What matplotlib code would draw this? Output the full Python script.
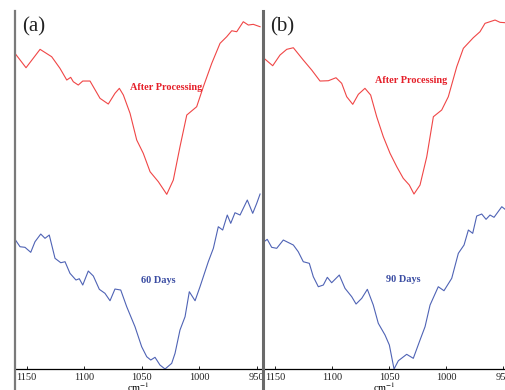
import numpy as np
import matplotlib
matplotlib.use("Agg")
import matplotlib.pyplot as plt
from matplotlib.lines import Line2D

plt.rcParams['font.family'] = ['Liberation Serif', 'DejaVu Serif']
plt.rcParams['mathtext.fontset'] = 'stix'

# Spectra: wavenumber (cm-1) vs signal (arb. units)
wn_a_proc = [1160.2, 1150.6, 1138.4, 1128.3, 1121.1, 1115.2, 1111.8, 1109.5, 1105.2, 1101.3,
             1095.0, 1086.3, 1079.1, 1073.3, 1069.5, 1066.0, 1060.2, 1054.4, 1048.7, 1042.8,
             1035.6, 1028.3, 1022.6, 1016.8, 1010.9, 1002.3, 996.5, 989.2, 982.0, 976.2,
             971.8, 967.5, 961.8, 957.4, 953.1, 947.2]
sig_a_proc = [315.7, 301.3, 319.7, 312.3, 300.7, 289.0, 291.7, 287.3, 284.0, 288.0,
              288.0, 270.7, 265.0, 275.7, 280.7, 274.0, 255.7, 229.0, 215.7, 197.3,
              187.3, 174.7, 189.0, 222.3, 254.0, 262.3, 282.3, 305.7, 325.7, 332.3,
              338.3, 337.3, 347.3, 344.0, 344.7, 342.3]

wn_a_60 = [1160.2, 1155.8, 1151.5, 1146.5, 1142.8, 1137.8, 1134.1, 1130.4, 1125.4, 1120.4,
           1116.7, 1112.4, 1107.2, 1104.3, 1101.3, 1096.5, 1092.1, 1086.9, 1082.0, 1077.6,
           1073.3, 1068.3, 1063.1, 1055.9, 1050.1, 1045.7, 1042.2, 1038.5, 1034.2, 1029.8,
           1024.0, 1021.1, 1016.8, 1012.4, 1008.7, 1003.7, 999.4, 992.2, 987.8, 983.5,
           979.7, 975.7, 972.7, 969.0, 964.6, 958.3, 953.6, 950.1, 947.2]
sig_a_60 = [129.7, 122.3, 121.7, 116.7, 127.3, 135.0, 130.7, 134.0, 110.7, 106.3,
            107.3, 95.7, 89.0, 90.3, 84.0, 98.0, 93.0, 79.7, 75.7, 68.3,
            80.0, 79.0, 62.3, 42.3, 22.3, 12.3, 9.0, 11.7, 4.0, 0.0,
            5.7, 15.7, 39.0, 52.3, 77.3, 68.3, 82.3, 107.3, 120.7, 142.3,
            139.0, 154.0, 145.7, 156.3, 154.0, 169.0, 155.7, 165.7, 175.0]

wn_b_proc = [1159.6, 1152.0, 1145.6, 1139.7, 1133.9, 1125.2, 1117.8, 1110.5, 1103.2, 1096.5,
             1091.5, 1087.1, 1081.8, 1076.9, 1071.1, 1066.1, 1060.8, 1055.0, 1049.1, 1043.2,
             1037.5, 1032.2, 1028.1, 1022.8, 1016.9, 1011.1, 1003.8, 998.0, 990.6, 984.8,
             976.1, 970.2, 965.8, 957.0, 952.6, 947.4]
sig_b_proc = [310.7, 303.3, 314.0, 319.7, 321.3, 309.0, 299.0, 288.0, 288.3, 291.3,
              285.7, 272.3, 264.7, 274.7, 280.7, 274.0, 252.3, 232.3, 215.7, 202.3,
              190.7, 184.0, 175.0, 184.0, 212.3, 252.3, 259.0, 272.3, 302.3, 320.7,
              331.3, 337.3, 345.7, 349.0, 346.7, 346.3]

wn_b_90 = [1159.6, 1156.8, 1152.9, 1148.5, 1142.7, 1133.9, 1129.6, 1125.2, 1119.9, 1116.4,
           1112.0, 1107.6, 1104.1, 1100.3, 1093.6, 1088.6, 1082.7, 1078.9, 1073.9, 1069.0,
           1063.8, 1059.4, 1053.5, 1049.7, 1045.6, 1041.8, 1034.5, 1028.7, 1022.8, 1018.4,
           1014.0, 1006.8, 1001.8, 995.0, 989.2, 984.2, 980.4, 976.6, 973.1, 968.7,
           964.9, 961.4, 957.9, 951.1, 947.4]
sig_b_90 = [127.3, 129.7, 121.7, 120.7, 129.0, 124.0, 117.3, 107.3, 105.7, 92.3,
            82.3, 84.0, 91.7, 86.3, 94.0, 80.7, 72.3, 65.0, 70.7, 79.7,
            64.0, 45.7, 34.0, 24.0, 0.0, 8.3, 14.7, 10.7, 29.0, 42.3,
            64.0, 82.3, 78.3, 90.7, 115.7, 124.0, 139.0, 135.7, 153.0, 155.0,
            149.7, 154.0, 151.7, 162.3, 159.0]

ticks = [1150, 1100, 1050, 1000, 950]

red = '#f04646'
red_txt = '#e5202a'
blue = '#4f63b5'
blue_txt = '#3a4ca2'

fig = plt.figure(figsize=(5.06, 3.9), dpi=100)
ax_a = fig.add_axes([0.0296, 0.0538, 0.4862, 0.9179])
ax_b = fig.add_axes([0.5198, 0.0538, 0.4802, 0.9179])
ax_b.patch.set_alpha(0)

panels = [
    (ax_a, wn_a_proc, sig_a_proc, wn_a_60, sig_a_60, '60 Days', '(a)',
     (1160.2, 946.4), (1028.9, 282), (1035.9, 89)),
    (ax_b, wn_b_proc, sig_b_proc, wn_b_90, sig_b_90, '90 Days', '(b)',
     (1160.5, 947.4), (1030.7, 289), (1037.5, 90)),
]

for ax, wp, sp, wd, sd, days, tag, xl, pos_p, pos_d in panels:
    ax.plot(wp, sp, color=red, lw=0.8)
    ax.plot(wd, sd, color=blue, lw=0.8)
    ax.set_xlim(*xl)
    ax.set_ylim(0, 358)
    ax.set_xticks(ticks)
    ax.set_yticks([])
    for s in ['top', 'right', 'left']:
        ax.spines[s].set_visible(False)
    ax.spines['bottom'].set_linewidth(0.9)
    ax.tick_params(axis='x', direction='in', length=2, width=0.7, labelsize=7.5,
                   pad=3, colors='#222222')
    ax.set_xlabel('cm$^{-1}$', fontsize=7.5, labelpad=-1)
    ax.text(pos_p[0], pos_p[1], 'After Processing', color=red_txt, fontsize=7.4,
            fontweight='bold', ha='center', va='center')
    ax.text(pos_d[0], pos_d[1], days, color=blue_txt, fontsize=7.4,
            fontweight='bold', ha='center', va='center')
    ax.text(0.03, 0.955, tag, transform=ax.transAxes, fontsize=15,
            color='#222222', ha='left', va='center')

# gray panel edges running down to the bottom of the figure
fig.add_artist(Line2D([0.0306, 0.0306], [0, 0.972], color='#7a7a7a', lw=1.6))
fig.add_artist(Line2D([0.5195, 0.5195], [0, 0.972], color='#6a6a6a', lw=2.2))

fig.savefig('out.png', dpi=100)
